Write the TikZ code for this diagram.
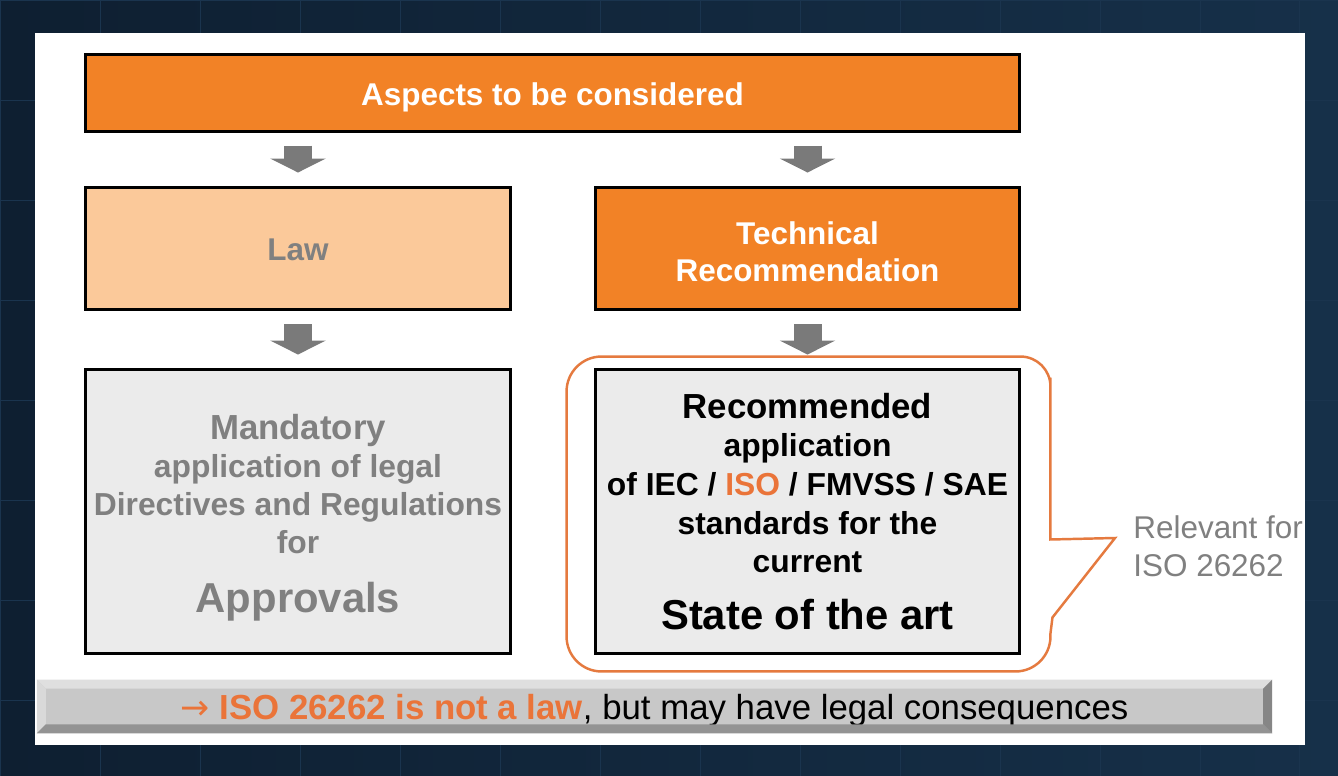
\documentclass[tikz,border=0pt]{standalone}
\usepackage{fontspec}
\setmainfont{Liberation Sans}
\newfontfamily\symfont{DejaVu Sans}
\usetikzlibrary{arrows.meta, positioning, calc}
\definecolor{cnavy}{HTML}{0E1F31}
\definecolor{cnavyb}{HTML}{163049}
\definecolor{cgridl}{HTML}{1A344E}
\definecolor{corange}{HTML}{F28226}
\definecolor{cpeach}{HTML}{FBC99A}
\definecolor{clight}{HTML}{EBEBEB}
\definecolor{cgrey}{HTML}{808080}
\definecolor{carrow}{HTML}{7A7A7A}
\definecolor{ctext}{HTML}{EA7439}
\definecolor{cline}{HTML}{E57A3F}
\definecolor{cbar}{HTML}{C8C8C8}
\tikzset{
  every picture/.style={x=0.02cm, y=-0.02cm},
  box/.style={draw=black, fill=#1, line width=1.7pt, align=center, inner sep=0pt,
    minimum width=8.5cm, minimum height=2.46cm},
  box/.default=clight,
  big/.style={box=corange, minimum width=18.7cm, minimum height=1.53cm},
  tall/.style={box=clight, minimum height=5.7cm},
  fat/.style={draw=carrow, line width=0.56cm, -{Triangle[width=1.1cm, length=0.28cm]},
    shorten <=0.26cm, shorten >=0.26cm},
  head/.style={font=\bfseries\fontsize{17.9}{21}\selectfont, text=white},
  body/.style={font=\bfseries\fontsize{18.1}{21.8}\selectfont},
  callout/.style={draw=cline, line width=1.4pt},
  note/.style={font=\fontsize{17.9}{21.5}\selectfont, text=cgrey, align=left, anchor=west, inner sep=0pt},
}

\begin{document}
\begin{tikzpicture}
  % backdrop and slide
  \useasboundingbox (0,0) rectangle (1338,776);
  \shade[left color=cnavy, right color=cnavyb] (0,0) rectangle (1338,776);
  \draw[cgridl, line width=0.3pt, step=2cm] (0,0) grid (1338,776);
  \fill[white] (35,33) rectangle (1305,745);
  % boxes
  \node[big, head, text height=14.8pt, text depth=0pt] (top) at (552.5,93) {Aspects to be considered};
  \node[box=cpeach, head, text=cgrey, text height=13.8pt, text depth=0pt] (law) at (298,248.5) {Law};
  \node[box=corange, head] (tech) at (807.5,248.5) {\rule{0pt}{16.3pt}Technical\\Recommendation};
  \node[tall, body, text=cgrey] (mand) at (298,511.5) {\rule{0pt}{21.3pt}{\fontsize{19.8}{21.8}\selectfont Mandatory}\\
    application of legal\\ Directives and Regulations\\ for\\[11.6pt]
    {\fontsize{23.8}{26}\selectfont Approvals}};
  \node[tall, body, font=\bfseries\fontsize{18.1}{22}\selectfont] (rec) at (807.5,511.5)
    {{\fontsize{19.8}{22}\selectfont Recommended}\\
    application\\ of IEC / \textcolor{ctext}{ISO} / FMVSS / SAE\\ standards for the\\ current\\[10.5pt]
    {\fontsize{23.8}{26}\selectfont State of the art}};
  \foreach \a/\b in {top/law, top/tech, law/mand, tech/rec} {\draw[fat] (\a.south -| \b.north) -- (\b.north);}
  % speech bubble round the right box
  \coordinate (tip) at (1115,538);
  \draw[callout] ($(rec.north)+(0,-11)$)
    [rounded corners=0.6cm] -- ($(rec.north east)+(29,-11)$) -- ($(rec.north east)+(29,40)$)
    [sharp corners] -- ($(rec.east)+(29,28)$) -- (tip) -- ($(rec.south east)+(31,-38)$) -- ($(rec.south east)+(29,-22)$)
    [rounded corners=0.7cm] -- ($(rec.south east)+(29,16)$) -- ($(rec.south west)+(-27,16)$)
    -- ($(rec.north west)+(-27,-11)$) -- cycle;
  \node[note] (rel) at (1133,546) {Relevant for\\ISO 26262};
  % bottom bar
  \node[fill=cbar, minimum width=24.7cm, minimum height=1.06cm, inner sep=0pt,
    text height=14.6pt, text depth=0pt, font=\fontsize{19.8}{23}\selectfont] (bar) at (654.5,706.5)
    {\textcolor{ctext}{{\symfont →} \bfseries ISO 26262 is not a law}, but may have legal consequences};
  \fill[gray!25] (bar.north west) -- (bar.north east) -- ++(-9,9) -- ($(bar.north west)+(9,9)$) -- cycle;
  \fill[gray!30] (bar.north west) -- ++(9,9) -- ($(bar.south west)+(9,-9)$) -- (bar.south west) -- cycle;
  \fill[gray!85] (bar.south west) -- (bar.south east) -- ++(-9,-9) -- ($(bar.south west)+(9,-9)$) -- cycle;
  \fill[gray!95] (bar.north east) -- ++(-9,9) -- ($(bar.south east)+(-9,-9)$) -- (bar.south east) -- cycle;
\end{tikzpicture}
\end{document}
